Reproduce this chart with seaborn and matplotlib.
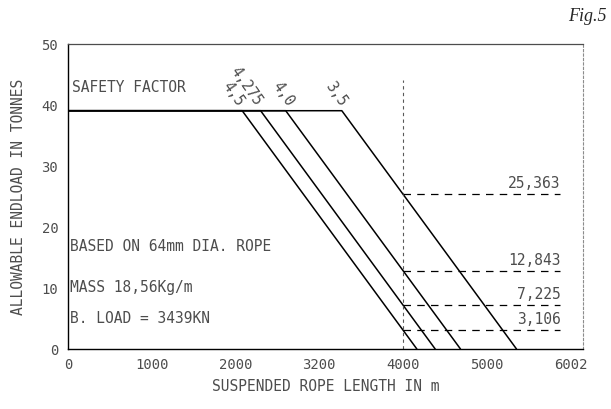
import matplotlib
matplotlib.use("Agg")
import matplotlib.pyplot as plt
import seaborn as sns
import pandas as pd
from matplotlib.ticker import MultipleLocator

# ---- data ----
safety_factors = ["4,5", "4,275", "4,0", "3,5"]
flat_load = 39.0                                  # tonnes, plateau
break_lengths = [2080, 2300, 2600, 3270]          # m, end of plateau
zero_lengths = [4166, 4385, 4687, 5356]           # m, load reaches 0
ref_length = 4000
ref_loads = [25.363, 12.843, 7.225, 3.106]
ref_labels = ["25,363", "12,843", "7,225", "3,106"]
sf_label_pos = [(1976, 41.9), (2132, 43.1), (2571, 41.9), (3195, 41.9)]
x_ticks = [0, 1000, 2000, 3000, 4000, 5000, 6000]
x_tick_labels = ["0", "1000", "2000", "3200", "4000", "5000", "6002"]
y_ticks = [0, 10, 20, 30, 40, 50]
y_tick_labels = ["0", "10", "20", "30", "40", "50"]

rows = []
for sf, b, z in zip(safety_factors, break_lengths, zero_lengths):
    rows += [(sf, 0, flat_load), (sf, b, flat_load), (sf, z, 0.0)]
df = pd.DataFrame(rows, columns=["sf", "length", "load"])

sns.set_theme(style="white")
plt.rcParams["font.family"] = ["DejaVu Sans Mono", "DejaVu Sans"]
MONO = 10.5
TICK = 10
TXT = "0.3"

fig = plt.figure(figsize=(6.11, 4.10), dpi=100)
ax = fig.add_axes([68 / 611, 60 / 410, 515 / 611, 305.5 / 410])

sns.lineplot(data=df, x="length", y="load", hue="sf", units="sf",
             estimator=None, sort=False, palette=["black"] * 4,
             legend=False, linewidth=1.1, ax=ax)

# vertical reference line at 4000 m
ax.plot([ref_length, ref_length], [0, 44], color="0.35", lw=0.8,
        linestyle=(0, (3, 3)))
# horizontal dashed markers and value labels
for v, lab in zip(ref_loads, ref_labels):
    ax.plot([ref_length, 5880], [v, v], color="black", lw=0.9,
            linestyle=(0, (6, 5)))
    ax.text(5880, v + 0.6, lab, ha="right", va="bottom",
            fontsize=MONO, color=TXT)

# safety factor labels
ax.text(49, 42.9, "SAFETY FACTOR", ha="left", va="center",
        fontsize=MONO, color=TXT)
for lab, (x, y) in zip(safety_factors, sf_label_pos):
    ax.text(x, y, lab, rotation=-55, ha="center", va="center",
            rotation_mode="anchor", fontsize=MONO, color=TXT)

ax.text(25, 17.0, "BASED ON 64mm DIA. ROPE", ha="left", va="center",
        fontsize=MONO, color=TXT)
ax.text(25, 10.2, "MASS 18,56Kg/m", ha="left", va="center",
        fontsize=MONO, color=TXT)
ax.text(25, 5.2, "B. LOAD = 3439KN", ha="left", va="center",
        fontsize=MONO, color=TXT)

ax.set_xlim(0, 6150)
ax.set_ylim(0, 50)
ax.set_xticks(x_ticks)
ax.set_xticklabels(x_tick_labels)
ax.set_yticks(y_ticks)
ax.set_yticklabels(y_tick_labels)
ax.xaxis.set_minor_locator(MultipleLocator(100))
ax.yaxis.set_minor_locator(MultipleLocator(1))
ax.tick_params(which="both", direction="in", color="0.2", labelsize=TICK,
               labelcolor=TXT)
ax.tick_params(which="major", length=5, width=0.8)
ax.tick_params(which="minor", length=3, width=0.6)
ax.tick_params(axis="x", pad=6)
ax.tick_params(axis="y", pad=7)

ax.set_xlabel("SUSPENDED ROPE LENGTH IN m", fontsize=MONO, color=TXT,
              labelpad=5)
ax.set_ylabel("ALLOWABLE ENDLOAD IN TONNES", fontsize=MONO, color=TXT,
              labelpad=11)

for s in ["left", "bottom"]:
    ax.spines[s].set_color("black")
    ax.spines[s].set_linewidth(1.0)
ax.spines["top"].set_color("0.3")
ax.spines["top"].set_linewidth(0.9)
ax.spines["top"].set_linestyle((0, (8, 1)))
ax.spines["right"].set_color("0.55")
ax.spines["right"].set_linewidth(0.8)
ax.spines["right"].set_linestyle((0, (2, 2)))

fig.text(0.993, 0.98, "Fig.5", ha="right", va="top", fontsize=13,
         family="Liberation Serif", style="italic")

fig.savefig("out.png", dpi=100, facecolor="white")
